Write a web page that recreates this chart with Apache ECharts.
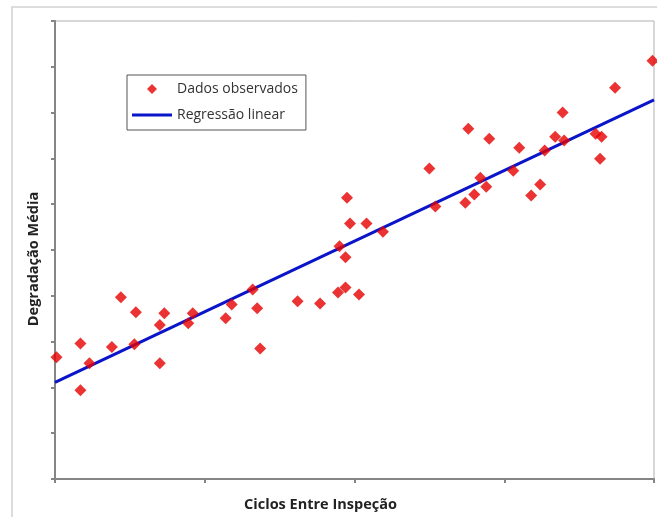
<!DOCTYPE html>
<html lang="pt">
<head>
  <meta charset="UTF-8">
  <script src="https://cdn.jsdelivr.net/npm/echarts@6.0.0/dist/echarts.min.js"></script>
  <style>
    html, body { margin: 0; padding: 0; background: #fff; }
  </style>
</head>
<body>
  <div id="regressionChart" style="width: 657px;height:517px;"></div>

  <script type="text/javascript">

    // observed points: ciclos entre inspeção (x) / degradação média (y)
    var ciclos = [0.01, 0.17, 0.17, 0.23, 0.38, 0.44, 0.53, 0.54, 0.70, 0.70,
                  0.73, 0.89, 0.92, 1.14, 1.18, 1.32, 1.35, 1.37, 1.62, 1.77,
                  1.89, 1.94, 2.03, 1.90, 1.94, 1.95, 1.97, 2.08, 2.19, 2.50,
                  2.54, 2.74, 2.80, 2.84, 2.88, 2.76, 2.90, 3.06, 3.10, 3.18,
                  3.24, 3.27, 3.34, 3.40, 3.39, 3.61, 3.65, 3.64, 3.74, 3.99];
    var degradacao = [2.66, 1.94, 2.96, 2.53, 2.88, 3.97, 2.94, 3.64, 3.36, 2.53,
                      3.62, 3.40, 3.62, 3.51, 3.81, 4.14, 3.73, 2.85, 3.88, 3.83,
                      4.07, 4.18, 4.03, 5.08, 4.84, 6.14, 5.58, 5.58, 5.40, 6.78,
                      5.95, 6.03, 6.21, 6.58, 6.38, 7.65, 7.43, 6.73, 7.23, 6.19,
                      6.43, 7.17, 7.47, 7.39, 8.00, 7.54, 7.47, 6.99, 8.54, 9.13];

    // fitted line end points
    var regX = [0, 4];
    var regY = [2.11, 8.28];

    var seriesNames = ['Dados observados', 'Regressão linear'];

    const observed = ciclos.map((x, i) => [x, degradacao[i]]);
    const fitted = regX.map((x, i) => [x, regY[i]]);

    // legend icons drawn inside a 40x14 box (the zero-length moves fix the box)
    const diamondIcon = 'path://M0,0 L0,0 M40,14 L40,14 M20,2 L25,7 L20,12 L15,7 Z';
    const lineIcon = 'path://M0,0 L0,0 M40,14 L40,14 M0,5.5 L40,5.5 L40,8.5 L0,8.5 Z';

    function createRegressionChart() {
        const chart = echarts.init(document.getElementById('regressionChart'));

        const axisStyle = {
            axisLine: { lineStyle: { color: '#858585', width: 2 } },
            axisTick: { show: true, inside: false, length: 4, lineStyle: { color: '#858585', width: 2 } },
            axisLabel: { show: false },
            splitLine: { show: false }
        };

        let option = {
            backgroundColor: '#fff',
            animation: false,
            textStyle: { fontFamily: 'Open Sans' },
            graphic: [{
                type: 'rect',
                shape: { x: 12, y: 7, width: 660, height: 530 },
                style: { fill: 'none', stroke: '#dcdcdc', lineWidth: 2 },
                z: -1
            }],
            grid: {
                left: 55, top: 21, right: 3, bottom: 37,
                show: true,
                borderColor: '#b0b0b0',
                borderWidth: 1
            },
            legend: {
                orient: 'vertical',
                left: 127,
                top: 75,
                data: [
                    { name: seriesNames[0], icon: diamondIcon },
                    { name: seriesNames[1], icon: lineIcon }
                ],
                itemWidth: 40,
                itemHeight: 14,
                itemGap: 12,
                padding: [7, 8, 8, 5],
                borderColor: '#555',
                borderWidth: 1,
                textStyle: { fontSize: 14, color: '#333', fontFamily: 'Open Sans' }
            },
            xAxis: Object.assign({
                type: 'value',
                min: 0, max: 4, interval: 1,
                name: 'Ciclos Entre Inspeção',
                nameLocation: 'middle',
                nameGap: 18,
                nameTextStyle: { fontSize: 14.5, fontWeight: 'bold', color: '#222', padding: [0, 68, 0, 0] }
            }, axisStyle),
            yAxis: Object.assign({
                type: 'value',
                min: 0, max: 10, interval: 1,
                name: 'Degradação Média',
                nameLocation: 'middle',
                nameGap: 14,
                nameTextStyle: { fontSize: 14.5, fontWeight: 'bold', color: '#222', padding: [0, 0, 0, -18] }
            }, axisStyle),
            series: [
                {
                    name: seriesNames[1],
                    type: 'line',
                    data: fitted,
                    symbol: 'none',
                    lineStyle: { color: '#0a14c8', width: 3 },
                    itemStyle: { color: '#0a14c8' },
                    z: 2
                },
                {
                    name: seriesNames[0],
                    type: 'scatter',
                    data: observed,
                    symbol: 'diamond',
                    symbolSize: 12,
                    itemStyle: { color: '#e60000' },
                    z: 3
                }
            ]
        };

        chart.setOption(option);
    }
    createRegressionChart();
  </script>
</body>
</html>
